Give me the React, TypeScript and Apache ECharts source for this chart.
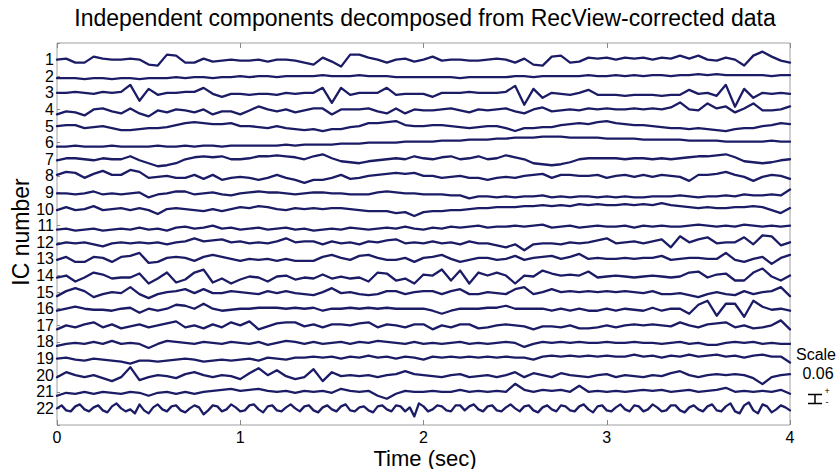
import React, { useEffect, useRef } from "react";
import * as echarts from "echarts";

// Amplitudes, in steps of 0.0075 (one eighth of the 0.06 scale bar).
const ic1 = [0, 1, -3, -3, 3, 1, 0, 0, 1, 0, -5, -6, 5, 4, -3, -3, 1, -2, -1, 0, -1, -1, 0, -2, 0, 0, -1, -3, -5, 2, -2, -7, 5, 5, 2, 0, -3, 0, 1, -2, 0, 3, -1, 0, 0, -1, -1, 0, 1, 0, -3, 1, -5, -6, 3, 4, -3, -2, 2, 1, 2, 0, 2, 1, 2, 0, 2, 1, 4, 1, 4, 0, -1, 2, 0, -6, 4, 8, 3, -1, -3];
const ic2 = [-2, -2, -2, -3, -2, -2, -3, -2, -2, -3, -2, -2, -2, -1, -2, -1, -1, -2, -1, -1, 0, -1, 0, 0, -1, 0, 0, 0, 0, 1, 0, 0, 0, 1, 0, 0, 0, -1, -1, -1, -1, -1, -1, -1, -2, -1, -1, -1, -1, -1, 0, 0, -1, 0, 0, 0, 0, 0, 1, 0, 0, 1, 0, 1, 0, 1, 1, 0, 1, 1, 2, 1, 2, 1, 1, 1, 1, 1, 0, 1, 1];
const ic3 = [0, 0, 1, 0, -1, 1, 0, 1, 8, -8, 4, -2, 0, 0, 1, 1, 5, -1, -4, -1, -1, -2, -1, -1, -2, 0, -1, 0, 0, 5, -10, 5, -2, 0, 0, 0, 5, -2, -1, -1, -1, -4, 0, 0, 0, 1, 0, 0, 0, 1, 7, -12, 4, -5, 0, -1, -2, 0, 3, -2, -2, -2, -3, -2, -2, -2, -3, -2, -2, 3, -1, 0, -3, 8, -14, 4, -5, 0, -1, 0, -1];
const ic4 = [-5, -2, -3, -6, 0, 1, -2, -4, 1, -4, -7, -1, -3, 0, -1, -3, 0, -5, -2, -2, -5, -1, 3, 0, -2, 0, -3, -1, 1, 1, -5, 0, 0, 0, 1, -2, -4, 1, -4, 0, -1, -1, 0, 1, -1, -3, 0, -1, 0, 1, -2, -4, 0, 2, -2, -1, 0, -1, 1, 0, 1, 0, 0, 1, 0, 1, 0, 2, 7, 0, -1, 6, 1, 3, -3, 1, 6, -1, -1, 0, 3];
const ic5 = [0, 1, 1, -2, -1, 0, -2, -4, -4, -3, -2, -2, -1, 1, 3, 4, 3, 2, 2, 3, 0, 0, -1, -2, 0, -2, -3, -4, -3, -5, -3, -3, -1, 0, 3, 3, 4, 5, 1, 0, 0, 1, 1, 0, -1, -2, -1, 0, 0, -2, -5, -2, -2, -1, -1, 1, 2, 3, 2, 4, 5, 3, 2, 1, 1, 0, -1, -2, -2, -3, -2, -3, -4, -5, -3, -2, -2, 0, 1, 3, 2];
const ic6 = [-4, -4, -3, -4, -4, -4, -3, -4, -4, -4, -4, -3, -4, -4, -3, -4, -3, -3, -4, -3, -3, -3, -3, -3, -3, -2, -3, -2, -2, -2, -2, -1, -1, -1, 0, 0, 0, 0, 1, 1, 1, 1, 2, 2, 2, 3, 3, 3, 4, 4, 5, 5, 5, 6, 6, 6, 5, 5, 5, 5, 4, 4, 4, 4, 3, 3, 3, 3, 3, 2, 2, 2, 2, 1, 1, 1, 1, 1, 2, 1, 1];
const ic7 = [-1, 1, 1, 0, -1, 1, 0, 0, 3, -1, -4, -7, -6, -4, 0, 2, 3, 2, 3, 0, 0, 1, 3, 3, 4, 3, 2, 0, 3, 5, 1, -2, -3, -4, -2, -1, 0, 1, 0, 3, 1, 0, 2, 3, 0, 1, 3, 0, 1, 4, 2, 0, -4, -5, -6, -5, -3, 0, 1, 1, 1, 1, 0, 1, 1, 0, 1, 0, 1, 2, 3, 3, 4, 5, 2, -2, -3, -4, -3, -1, 0];
const ic8 = [1, 4, 3, -2, 2, 5, 1, 1, 6, 4, -2, -1, 0, -2, -2, 1, -3, 1, -4, -2, -1, -2, -4, -2, 1, -2, -4, -7, -4, -4, -2, 1, -3, -2, 0, 1, 2, 3, 2, 3, 0, 0, -2, -1, 0, -2, -2, -4, -2, -1, -2, 0, 1, 2, -2, 1, 1, 0, 0, 1, -2, 0, 1, -1, 1, -1, 1, 0, -1, -5, 1, 1, 2, 4, 1, -1, -5, -1, 1, 0, -3];
const ic9 = [-1, -1, -2, -1, 1, -2, -1, -2, -1, 0, -5, -2, -1, 1, 1, -2, -1, 0, -2, -3, -1, 0, 1, 0, 0, -1, -2, -1, 0, 0, -1, -1, -2, -2, -2, 0, 1, 0, -1, -1, -2, -2, -2, -3, -3, -6, -4, -4, -5, -4, -5, -4, -4, -3, -5, -4, -5, -4, -4, -5, -4, -5, -4, -5, -5, -4, -4, -4, -3, -4, -5, -4, -4, -3, -4, -2, -3, -3, -2, -3, 3];
const ic10 = [-1, 2, -1, 0, 3, -1, 0, 1, -1, 1, -1, -5, 0, 1, 0, -1, -2, 0, -2, 0, 2, 1, 3, 2, 0, -1, 1, 0, 1, 0, 1, 1, 0, -1, -2, -2, -2, -4, -3, -7, -3, -2, -2, -1, -1, 0, 1, 1, 2, 2, 2, 3, 3, 4, 3, 4, 3, 5, 4, 5, 4, 4, 5, 4, 5, 4, 6, 4, 3, 2, 1, 2, 1, 1, 2, 2, 3, 2, -1, -4, 1];
const ic11 = [-4, -3, -5, -4, -3, -5, -4, -3, -4, -2, -4, -3, -5, -2, -1, -3, -2, 0, -3, -2, -4, -3, -2, -4, -3, -2, -4, -3, -5, -4, -3, -4, -2, -3, -4, -3, -2, -3, -1, -3, -4, -2, -3, -1, -2, -1, 0, -2, -1, -1, 0, -1, 0, 1, -2, -1, 0, -2, -1, 0, -1, -1, 0, -2, 0, -1, 0, -1, -1, 0, 1, 0, -1, 0, -1, 1, 0, -1, 0, -1, 0];
const ic12 = [-2, 0, -1, 0, -2, -4, -1, 0, -1, 0, -1, 0, -2, 0, 1, 4, 1, 2, 3, 0, 1, -1, 0, -1, 1, 4, 0, 1, 1, -2, 1, -1, 0, -2, 1, 0, 2, 3, -1, 0, -1, 1, -1, 0, -2, 1, -1, -1, -3, -5, -2, -8, -2, -1, -1, -2, 0, -1, 0, 2, 4, -1, 0, 1, -1, 1, 3, -5, 6, 0, 3, 5, -1, 0, 0, 5, -2, 7, 6, -3, 0];
const ic13 = [-1, 2, -3, -3, 2, 1, -3, 2, 3, 6, -4, -3, 1, 2, 1, -2, 2, 4, 2, 0, -2, 0, -1, 0, -2, 0, -2, -2, -2, 2, 4, 1, -1, 3, 4, 1, -1, -1, 1, -3, 1, 2, 4, 0, -3, -1, 1, 1, -1, 0, 3, -1, 1, 2, 3, 0, 2, 5, 0, 1, 0, 0, 1, 0, 1, 1, 3, -1, 0, 1, 1, 0, 0, 6, -1, -3, 0, 2, -5, 1, 4];
const ic14 = [-2, 0, -6, -2, 3, 1, -3, -2, -2, 2, -8, -3, 3, -7, -4, 3, 6, -7, -3, -8, -4, -1, -2, -6, -1, 0, -4, -2, -3, 1, -3, -1, -3, -2, -6, 3, 2, -5, -3, -8, 1, 0, 6, -5, 5, -8, 3, 0, 3, 0, -8, 0, -1, 5, 2, 0, 1, 0, 4, -2, -1, 0, -1, -2, -1, 0, -1, -2, -1, 3, 4, -2, 1, 2, -5, -5, 3, 7, -1, -5, 0];
const ic15 = [-4, 1, 4, 1, -5, -2, 0, -1, 5, -2, -6, -2, 0, 1, 3, -1, 3, -1, -1, 1, 0, -1, -2, 1, -1, 1, -1, -2, -3, 0, 4, -1, 0, -2, -3, -2, 1, 1, -2, 0, 1, 1, -2, 1, 3, -2, -2, 0, -1, -2, 3, 5, -2, 0, 3, 0, 1, 0, 1, 0, 1, 0, 1, 0, -1, 1, -2, -2, -1, -3, -5, -2, 0, -2, -3, 1, -2, 0, 1, 5, -4];
const ic16 = [-2, 0, 2, 0, -1, -1, -2, 0, 1, -4, 0, -2, 0, 4, 3, 0, 5, 0, -2, -1, 0, 0, 1, 1, 1, 0, 1, 0, 1, -2, 0, 0, 1, 0, 1, 0, 1, 0, 0, 0, 0, -2, -5, -2, 0, 0, 0, 1, 1, 3, 0, 0, 0, 0, -2, 0, -2, 0, -2, -2, 0, -2, 0, -1, -2, 1, -2, 0, 0, -5, 4, 8, -7, 5, 5, -8, 8, 2, -1, 0, -2];
const ic17 = [-4, 0, -2, 1, 3, -2, 1, -3, -1, 1, -2, 0, 2, 4, -2, 0, -3, 1, -2, 3, 0, 4, -4, -1, 2, 3, 3, -1, 1, -2, 1, 1, 0, 2, 3, -2, 1, 0, -2, 1, 1, -4, 0, -2, 1, 1, -3, -2, 0, 1, 0, -1, -4, -1, -1, -2, 0, -3, -3, -2, 0, -2, 0, 1, 0, 1, 0, -1, 3, 0, -2, 1, 2, 3, -2, 0, -3, -2, 0, 5, -4];
const ic18 = [-4, -2, -1, -2, 0, -2, 1, -2, -1, -2, -6, -2, 1, 0, -1, -2, 0, -1, -2, 0, -1, -2, 0, -3, -1, 1, 0, -2, 0, -2, -1, 0, -2, 0, -1, 1, 0, -1, -2, 0, -2, -1, -2, -1, 0, -2, -1, -2, -1, 0, -1, -5, -2, 0, -1, 0, -1, 0, -1, -1, 0, -1, -1, 0, -1, -1, -2, -1, 0, -2, -1, -3, -3, -1, 0, -1, 0, -2, -1, -2, -2];
const ic19 = [0, 1, -1, -2, 0, -1, -2, -3, -5, -2, -2, -3, -2, -1, 0, -1, -3, -2, -1, -2, -1, 0, -2, 1, 0, -1, 1, 1, 2, 1, 2, 0, 2, 1, 3, 1, 2, 0, 2, 1, -1, 2, 1, 2, 1, 2, 1, 2, 1, 2, 1, 1, -1, 2, 3, 2, 3, 2, 3, 2, 3, 2, 2, 4, 2, 3, 1, 3, 2, 4, 2, 3, 4, 2, 3, 1, 3, 4, 2, 2, -4];
const ic20 = [-2, 3, 0, -2, 0, -3, -6, -2, 8, -5, -2, 0, -1, -3, 1, 3, 0, -2, 0, -1, -4, 2, 7, 0, 5, -1, -4, -2, 6, -6, 3, -1, 0, -1, 0, -2, 0, 1, 4, 1, 0, -1, -2, 0, 1, -2, -1, 0, -2, 0, 3, -2, 2, 0, -2, 2, 0, -1, -2, 0, 1, -2, 0, -1, -2, 0, -1, 2, 4, 0, -2, 0, 1, 0, 1, 0, -3, -9, -2, 0, 1];
const ic21 = [-4, -1, -2, 0, -2, 0, -1, -2, 0, -1, -4, -1, 0, -2, 0, -2, 0, 1, 2, 3, 1, 2, 3, 1, 0, 1, -1, 1, 0, 1, -1, 3, 1, 0, 1, -4, -7, -2, 1, 0, 0, 1, 0, 0, 2, 0, 1, 0, 1, 0, 8, 2, 0, 2, 1, 2, 0, 6, 0, 1, 0, 1, 0, 1, 2, 1, 2, 0, 1, 2, 0, 1, 2, 4, 0, 1, 0, 1, 0, 2, -2];
const ic22 = [0, 3, -2, -3, 2, 4, -1, -3, 1, 3, -2, -4, 2, 5, 0, -3, -1, -5, 4, -2, -5, 1, 4, -1, -3, 2, 3, -2, -4, 0, 3, 1, -6, -2, 3, 2, -3, -1, 4, 1, -3, -2, 3, 4, -1, -4, 2, 3, -2, -3, 1, 4, 0, -3, 2, 3, -2, -4, 1, 3, -1, -3, 2, 4, -2, -3, 1, 2, -2, -4, 2, 3, -1, -3, 3, 2, -3, 1, -8, 5, 2, -3, -1, 3, 2, -2, -3, 3, 3, -2, 2, 4, -1, -3, 2, 3, -2, -3, 1, 4, 0, -3, 2, 3, -2, -4, 1, 3, -1, -3, 3, 2, -2, -3, 2, 4, -1, -4, 2, 3, -2, -3, 1, 4, -1, -3, 3, 2, -3, -1, 4, 1, -3, -2, 3, 3, -2, -4, 1, 3, -1, -3, 2, 4, -2, -3, 2, 5, -3, -5, 3, 6, -2, -5, 4, 2, -4, -1, 3, 1, -2];

const TRACES = [ic1, ic2, ic3, ic4, ic5, ic6, ic7, ic8, ic9, ic10, ic11, ic12, ic13, ic14, ic15, ic16, ic17, ic18, ic19, ic20, ic21, ic22];
const X_TICKS = [0, 1, 2, 3, 4];
const DURATION = 4; // seconds
const AMP_STEP = 0.0075; // data units per array step
const SPACING = 0.125; // data units between traces
const SCALE_VALUE = "0.06";

const LINE_COLOR = "#1b1b66";
const FONT = "'Liberation Sans', Arial, Helvetica, sans-serif";

export default function App() {
  const ref = useRef<HTMLDivElement>(null);

  useEffect(() => {
    if (!ref.current) return;
    const chart = echarts.init(ref.current, null, { renderer: "svg" });
    const n = TRACES.length;
    const top = n + 1;

    const series = TRACES.map((arr, idx) => ({
      type: "line",
      name: "IC " + (idx + 1),
      data: arr.map((v, i) => [
        (i * DURATION) / (arr.length - 1),
        top - (idx + 1) + (v * AMP_STEP) / SPACING,
      ]),
      showSymbol: false,
      symbol: "none",
      silent: true,
      lineStyle: { width: 2.3, color: LINE_COLOR, join: "round", cap: "round" },
      itemStyle: { color: LINE_COLOR },
      z: 3,
    }));

    const axisCommon = {
      type: "value",
      min: X_TICKS[0],
      max: X_TICKS[X_TICKS.length - 1],
      interval: 1,
      splitLine: { show: false },
      axisLine: { show: false },
      axisTick: { show: true, inside: true, length: 5, lineStyle: { color: "#8a8a8a" } },
    };

    chart.setOption({
      animation: false,
      backgroundColor: "#ffffff",
      grid: {
        left: 57,
        top: 43,
        width: 733,
        height: 382,
        show: true,
        borderColor: "#a0a0a0",
        borderWidth: 1,
        backgroundColor: "transparent",
      },
      xAxis: [
        {
          ...axisCommon,
          position: "bottom",
          axisLabel: {
            show: true,
            fontSize: 16,
            color: "#000",
            fontFamily: FONT,
            margin: 4,
            formatter: (v: number) => String(v),
          },
        },
        {
          ...axisCommon,
          position: "top",
          axisLabel: { show: false },
        },
      ],
      yAxis: {
        type: "value",
        min: 0,
        max: top,
        interval: 1,
        splitLine: { show: false },
        axisLine: { show: false },
        axisTick: { show: true, inside: true, length: 3, lineStyle: { color: "#8a8a8a" } },
        axisLabel: {
          fontSize: 16,
          color: "#000",
          fontFamily: FONT,
          margin: 3,
          formatter: (v: number) => {
            const k = top - Math.round(v);
            return k >= 1 && k <= n ? String(k) : "";
          },
        },
      },
      series,
      graphic: [
        {
          type: "text",
          x: 425,
          y: 18,
          style: {
            text: "Independent components decomposed from RecView-corrected data",
            fontSize: 23,
            fontFamily: FONT,
            fill: "#000",
            textAlign: "center",
            textVerticalAlign: "middle",
          },
        },
        {
          type: "text",
          x: 425,
          y: 458,
          style: {
            text: "Time (sec)",
            fontSize: 22,
            fontFamily: FONT,
            fill: "#000",
            textAlign: "center",
            textVerticalAlign: "middle",
          },
        },
        {
          type: "text",
          x: 21,
          y: 232,
          rotation: Math.PI / 2,
          style: {
            text: "IC number",
            fontSize: 23,
            fontFamily: FONT,
            fill: "#000",
            textAlign: "center",
            textVerticalAlign: "middle",
          },
        },
        {
          type: "text",
          x: 816,
          y: 354,
          style: { text: "Scale", fontSize: 16, fontFamily: FONT, fill: "#000", textAlign: "center", textVerticalAlign: "middle" },
        },
        {
          type: "text",
          x: 818,
          y: 373,
          style: { text: SCALE_VALUE, fontSize: 16, fontFamily: FONT, fill: "#000", textAlign: "center", textVerticalAlign: "middle" },
        },
        { type: "line", shape: { x1: 808, y1: 394.5, x2: 822, y2: 394.5 }, style: { stroke: "#000", lineWidth: 1.5 } },
        { type: "line", shape: { x1: 815, y1: 394.5, x2: 815, y2: 403.5 }, style: { stroke: "#000", lineWidth: 1.5 } },
        { type: "line", shape: { x1: 808, y1: 403.5, x2: 822, y2: 403.5 }, style: { stroke: "#000", lineWidth: 1.5 } },
        {
          type: "text",
          x: 827,
          y: 391,
          style: { text: "+", fontSize: 9, fontFamily: FONT, fill: "#000", textAlign: "center", textVerticalAlign: "middle" },
        },
        {
          type: "text",
          x: 827,
          y: 402,
          style: { text: "-", fontSize: 9, fontFamily: FONT, fill: "#000", textAlign: "center", textVerticalAlign: "middle" },
        },
      ],
    });

    return () => chart.dispose();
  }, []);

  return (
    <div
      ref={ref}
      style={{ position: "fixed", left: 0, top: 0, width: 840, height: 469, background: "#fff" }}
    />
  );
}
